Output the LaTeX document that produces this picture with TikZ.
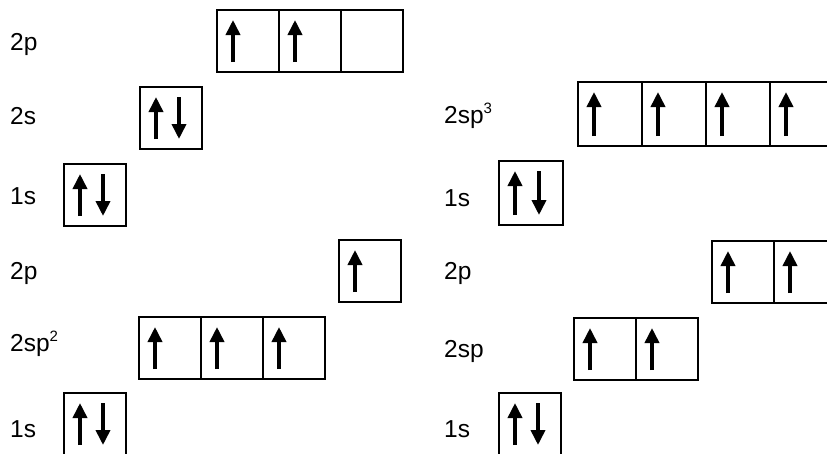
\documentclass[tikz,border=0pt]{standalone}
\usepackage{fontspec}
\setmainfont{Liberation Sans}
\usetikzlibrary{arrows.meta}

\begin{document}
\begin{tikzpicture}[x=1pt,y=-1pt,
		orbital/.style={draw,line width=2.8pt,minimum width=62pt,minimum height=62pt,
			inner sep=0pt,outer sep=0pt},
		wide/.style={orbital,minimum width=64pt,minimum height=64pt},
		level/.style={anchor=base west,inner sep=0pt,font=\fontsize{24.5}{28}\selectfont},
		spin/.style={line width=3.6pt,-{Triangle[length=15pt,width=14pt]}}]
		\useasboundingbox (0,0) rectangle (827,453);
		\clip (0,0) rectangle (827,453);
		% Ground state: 1s2 2s2 2p2
		\begin{scope}
			\node[level] (g2pl) at (10,50) {2p};
			\node[level] (g2sl) at (10,124) {2s};
			\node[level] (g1sl) at (10,204) {1s};
			\node[orbital] (g2pa) at (248,41) {};
			\node[orbital] (g2pb) at (310,41) {};
			\node[orbital] (g2pc) at (372,41) {};
			\node[orbital] (g2s) at (171,118) {};
			\node[orbital] (g1s) at (95,195) {};
			\draw[spin] ([xshift=16pt,yshift=10pt]g2pa.south west) -- ([xshift=16pt,yshift=-10pt]g2pa.north west);
			\draw[spin] ([xshift=16pt,yshift=10pt]g2pb.south west) -- ([xshift=16pt,yshift=-10pt]g2pb.north west);
			\draw[spin] ([xshift=16pt,yshift=10pt]g2s.south west) -- ([xshift=16pt,yshift=-10pt]g2s.north west);
			\draw[spin] ([xshift=39pt,yshift=-10pt]g2s.north west) -- ([xshift=39pt,yshift=10pt]g2s.south west);
			\draw[spin] ([xshift=16pt,yshift=10pt]g1s.south west) -- ([xshift=16pt,yshift=-10pt]g1s.north west);
			\draw[spin] ([xshift=39pt,yshift=-10pt]g1s.north west) -- ([xshift=39pt,yshift=10pt]g1s.south west);
		\end{scope}
		% sp3 hybrids
		\begin{scope}[xshift=434pt]
			\node[level] (h3l) at (10,123) {2sp\raisebox{0.4em}{\fontsize{15}{15}\selectfont 3}};
			\node[level] (h1sl) at (10,206) {1s};
			\node[wide] (h3a) at (176,114) {};
			\node[wide] (h3b) at (240,114) {};
			\node[wide] (h3c) at (304,114) {};
			\node[wide] (h3d) at (368,114) {};
			\node[wide] (h1s) at (97,193) {};
			\draw[spin] ([xshift=16pt,yshift=10pt]h3a.south west) -- ([xshift=16pt,yshift=-10pt]h3a.north west);
			\draw[spin] ([xshift=16pt,yshift=10pt]h3b.south west) -- ([xshift=16pt,yshift=-10pt]h3b.north west);
			\draw[spin] ([xshift=16pt,yshift=10pt]h3c.south west) -- ([xshift=16pt,yshift=-10pt]h3c.north west);
			\draw[spin] ([xshift=16pt,yshift=10pt]h3d.south west) -- ([xshift=16pt,yshift=-10pt]h3d.north west);
			\draw[spin] ([xshift=16pt,yshift=10pt]h1s.south west) -- ([xshift=16pt,yshift=-10pt]h1s.north west);
			\draw[spin] ([xshift=40pt,yshift=-10pt]h1s.north west) -- ([xshift=40pt,yshift=10pt]h1s.south west);
		\end{scope}
		% sp2 hybrids
		\begin{scope}[yshift=-230pt]
			\node[level] (t2pl) at (10,49) {2p};
			\node[level] (t2l) at (10,121) {2sp\raisebox{0.4em}{\fontsize{15}{15}\selectfont 2}};
			\node[level] (t1sl) at (10,207) {1s};
			\node[orbital] (t2p) at (370,41) {};
			\node[orbital] (t2a) at (170,118) {};
			\node[orbital] (t2b) at (232,118) {};
			\node[orbital] (t2c) at (294,118) {};
			\node[orbital] (t1s) at (95,194) {};
			\draw[spin] ([xshift=16pt,yshift=10pt]t2p.south west) -- ([xshift=16pt,yshift=-10pt]t2p.north west);
			\draw[spin] ([xshift=16pt,yshift=10pt]t2a.south west) -- ([xshift=16pt,yshift=-10pt]t2a.north west);
			\draw[spin] ([xshift=16pt,yshift=10pt]t2b.south west) -- ([xshift=16pt,yshift=-10pt]t2b.north west);
			\draw[spin] ([xshift=16pt,yshift=10pt]t2c.south west) -- ([xshift=16pt,yshift=-10pt]t2c.north west);
			\draw[spin] ([xshift=16pt,yshift=10pt]t1s.south west) -- ([xshift=16pt,yshift=-10pt]t1s.north west);
			\draw[spin] ([xshift=39pt,yshift=-10pt]t1s.north west) -- ([xshift=39pt,yshift=10pt]t1s.south west);
		\end{scope}
		% sp hybrids
		\begin{scope}[xshift=434pt,yshift=-230pt]
			\node[level] (d2pl) at (10,49) {2p};
			\node[level] (d2l) at (10,127) {2sp};
			\node[level] (d1sl) at (10,207) {1s};
			\node[orbital] (d2pa) at (309,42) {};
			\node[orbital] (d2pb) at (371,42) {};
			\node[orbital] (d2a) at (171,119) {};
			\node[orbital] (d2b) at (233,119) {};
			\node[orbital] (d1s) at (96,194) {};
			\draw[spin] ([xshift=16pt,yshift=10pt]d2pa.south west) -- ([xshift=16pt,yshift=-10pt]d2pa.north west);
			\draw[spin] ([xshift=16pt,yshift=10pt]d2pb.south west) -- ([xshift=16pt,yshift=-10pt]d2pb.north west);
			\draw[spin] ([xshift=16pt,yshift=10pt]d2a.south west) -- ([xshift=16pt,yshift=-10pt]d2a.north west);
			\draw[spin] ([xshift=16pt,yshift=10pt]d2b.south west) -- ([xshift=16pt,yshift=-10pt]d2b.north west);
			\draw[spin] ([xshift=16pt,yshift=10pt]d1s.south west) -- ([xshift=16pt,yshift=-10pt]d1s.north west);
			\draw[spin] ([xshift=39pt,yshift=-10pt]d1s.north west) -- ([xshift=39pt,yshift=10pt]d1s.south west);
		\end{scope}
	\end{tikzpicture}
\end{document}
